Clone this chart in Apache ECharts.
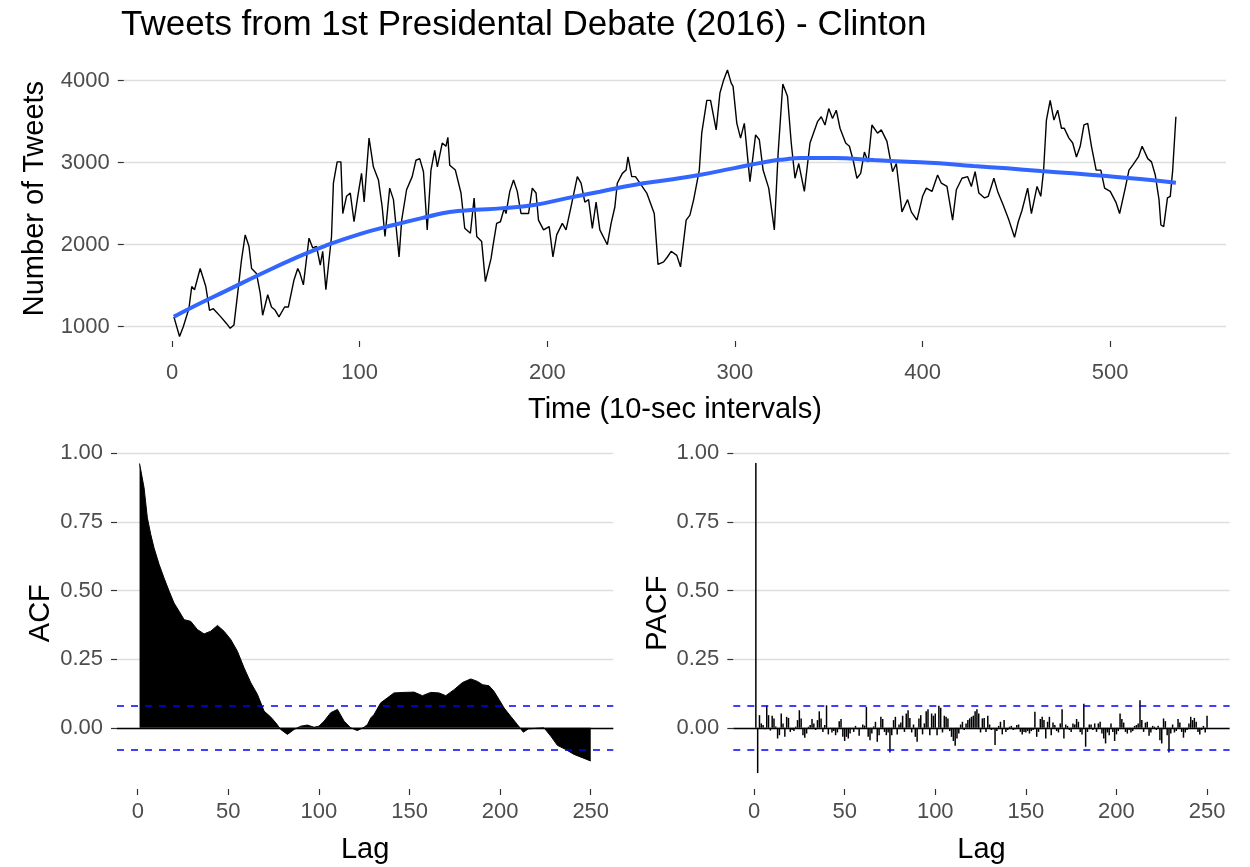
<!DOCTYPE html>
<html>
<head>
<meta charset="utf-8">
<title>Tweets from 1st Presidental Debate (2016) - Clinton</title>
<script src="https://cdn.jsdelivr.net/npm/echarts@6/dist/echarts.min.js"></script>
<style>
  html, body { margin: 0; padding: 0; background: #fff; }
  #chart { width: 1250px; height: 867px; }
</style>
</head>
<body>
<div id="chart"></div>
<script>
// time series (10-sec interval index, tweet count)
const timeX = [1,4,6,9,10.5,12,15,18,20,22,26,29,31,33,35,37,39,41,42.4,45,47,48.3,51,53,55,57,60,62,65,67,68.2,70,73,75,77,79,80.3,82,83,85,86,88,90,91,93,95,97,99,101,102.4,105,106,107.3,110,112,113.5,116,118,121,122.4,125,128,130,132,134,136,138,140,141.4,144,146,147,148,151,154,156,159,161,162.4,165,167,170,171,173,175,
  177,178,180,182,184,186,190,192,194,195.3,198,201,203,205,208,210,213,216,218,220,222,224,226,228,232,234,236,237.3,240,242,243,245,247,250,253,257,259,262,264,266,269,271,274,276,278,281,282.3,285,287,290,292,294,296,298,299,301,303,305,308,311,313,315,318,321,323,325.5,328,330,332,334,337,340,344,346,348,350,352,354,356,
  359,361,363,365,367,369,371,373,376,378,381,384,386,389,392,394,397,400,402,405,408,410,413,416,418,421,424,426,428,430,433,435,438,440,443,446,449,451,453,456,458,461,463,464.5,466,468,470,472,474,475.5,478,480,482,484,486,488,490,492.5,495,497,500,503,505,508,510,512,515,517,520,522,524,526,527,528.5,530.5,532,533.3,535];
const tweets = [1120,880,1000,1220,1490,1450,1710,1490,1200,1220,1120,1040,980,1020,1410,1810,2120,1980,1710,1650,1410,1140,1390,1240,1200,1120,1240,1240,1570,1710,1650,1510,2080,1960,1980,1750,1920,1450,1450,2100,2750,3010,3010,2380,2590,2630,2280,2590,2870,2520,3300,3150,2950,2790,2460,2100,2690,2550,1850,2300,2670,2830,3030,3050,2890,2180,2910,3150,2950,3240,3200,3310,2970,2910,2630,2200,2140,2570,2100,2040,1550,1830,1980,2260,2280,
  2440,2380,2650,2790,2650,2380,2380,2690,2630,2300,2180,2220,1850,2120,2260,2180,2500,2830,2750,2520,2550,2200,2520,2180,2000,2260,2460,2750,2870,2910,3070,2830,2830,2730,2630,2380,1760,1790,1850,1920,1870,1730,2300,2360,2550,2910,3360,3760,3760,3400,3850,4010,4130,3970,3930,3480,3300,3480,2770,3340,3280,2910,2690,2180,3110,3960,3810,3240,2810,2990,2650,3240,3500,3560,3460,3660,3540,3640,3420,
  3240,3200,3030,2810,2870,3130,3010,3460,3360,3400,3260,2890,2990,2400,2550,2400,2300,2590,2690,2650,2850,2750,2710,2300,2670,2810,2830,2710,2890,2630,2570,2590,2810,2650,2480,2300,2090,2280,2420,2690,2380,2710,2590,2910,3520,3760,3520,3640,3420,3420,3300,3240,3070,3200,3460,3480,3200,2910,2910,2690,2650,2520,2380,2690,2910,2970,3070,3200,3050,3010,2850,2550,2240,2220,2570,2590,2910,3560];

// loess smoother
const smoothX = [1,11,29,47,65,82,100,118,136,148,162,175,193,210,228,246,264,281,299,317,326,335,353,374,392,409,427,445,463,480,498,516,535];
const smoothY = [1120,1240,1440,1640,1830,1990,2130,2240,2340,2400,2425,2443,2484,2565,2646,2728,2789,2850,2931,3012,3040,3057,3057,3032,3012,2992,2959,2931,2898,2870,2837,2801,2756];

// ACF outline (lag, acf)
const acfLag = [1,3.5,5.3,7.2,9,11.8,14.5,17.3,20,22.8,25.6,29.2,32.9,36.6,40.3,44,47.6,51.3,55,58.7,62.4,66.1,69.7,73.4,76.2,78.9,82.6,86.3,90,93.6,97.3,100,102.8,106.5,110.2,113.9,117.5,121.2,124.9,126.8,128.6,130.4,134.1,137.8,141.4,147,152.5,157.1,161.7,166.3,170,174.6,179.2,183.8,187.5,190.3,193.9,196.6,199.4,202.2,205.8,209.5,212.8,215.6,224.2,227.9,231.6,236.2,240.8,245.4,250];
const acfValue = [0.963,0.874,0.765,0.704,0.655,0.595,0.546,0.498,0.455,0.425,0.394,0.388,0.358,0.342,0.352,0.373,0.352,0.322,0.279,0.218,0.164,0.121,0.061,0.039,0.018,-0.006,-0.024,-0.006,0.006,0.010,0.002,0.006,0.024,0.055,0.067,0.024,0.000,-0.010,0.002,0.012,0.036,0.048,0.091,0.109,0.127,0.129,0.130,0.117,0.129,0.127,0.117,0.139,0.165,0.178,0.169,0.157,0.153,0.133,0.103,0.072,0.042,0.012,-0.016,-0.004,0.000,-0.030,-0.064,-0.079,-0.097,-0.109,-0.121];

// PACF for lags 1..250
const pacfValue = [0.965,-0.165,0.046,0.016,0.01,-0.005,0.08,0.046,-0.01,0.044,0.034,0.005,-0.039,-0.027,0.052,0.016,-0.033,0.04,0.036,-0.015,
  -0.008,-0.012,0.004,0.028,0.064,0.034,-0.027,-0.036,-0.021,0.004,0.01,0.032,0.016,-0.008,0.028,0.06,0.034,-0.015,0.01,0.082,
  -0.024,-0.002,-0.017,-0.012,-0.027,-0.017,0.024,0.032,-0.033,-0.048,-0.033,-0.039,-0.021,-0.005,-0.015,0.007,-0.005,-0.029,-0.002,0.012,
  0.008,0.076,-0.033,-0.045,-0.021,0.005,0.022,-0.051,-0.027,0.04,0.032,-0.015,-0.027,-0.017,-0.09,-0.027,0.028,0.04,-0.024,0.012,
  0.019,0.044,-0.015,0.052,0.064,0.036,-0.017,0.012,-0.033,-0.051,0.034,0.046,-0.024,0.016,0.06,0.068,-0.027,0.052,0.044,0.052,
  -0.027,0.08,0.073,-0.017,0.044,0.04,0.034,-0.012,-0.033,-0.048,-0.065,-0.039,-0.021,0.012,0.022,-0.008,0.016,0.028,0.034,0.04,
  0.044,0.06,0.068,0.052,-0.017,0.034,0.036,-0.015,0.044,0.012,-0.008,-0.005,-0.063,-0.012,0.007,0.022,-0.024,0.028,-0.015,-0.008,
  0.004,0.007,-0.008,-0.005,0.01,0.012,-0.015,-0.024,-0.015,-0.017,-0.012,-0.021,-0.012,-0.008,0.058,-0.033,-0.015,0.032,0.04,0.028,
  -0.039,0.022,0.04,-0.027,0.019,0.01,-0.012,-0.017,0.016,0.068,-0.039,0.012,0.007,-0.008,-0.015,0.016,0.012,0.032,0.022,-0.015,
  -0.024,0.088,-0.069,-0.015,0.012,0.012,-0.008,0.016,-0.015,0.016,0.022,-0.021,-0.039,-0.057,-0.017,-0.027,0.016,-0.015,-0.048,-0.024,
  -0.012,0.052,0.032,0.019,-0.015,-0.021,-0.008,-0.017,-0.012,0.007,0.01,0.016,0.10,0.028,-0.015,0.019,0.022,-0.029,-0.017,0.007,
  0.004,-0.008,0.007,-0.045,-0.057,0.034,0.024,-0.027,-0.09,-0.021,0.012,-0.017,-0.012,0.032,0.019,-0.015,-0.036,-0.017,-0.008,0.016,
  0.04,0.028,0.036,0.022,-0.015,-0.024,-0.008,0.007,-0.017,0.044];

const confLimit = 0.0847;
const timeTicks = [0, 100, 200, 300, 400, 500];
const countTicks = [1000, 2000, 3000, 4000];
const lagTicks = [0, 50, 100, 150, 200, 250];
const corrTicks = [0, 0.25, 0.5, 0.75, 1];

const FONT = '"Liberation Sans", Arial, sans-serif';
const GRID_COLOR = '#dedede';
const TICK_SIZE = 22;
const NAME_SIZE = 29;

function zip(xs, ys) {
  return xs.map((x, i) => [x, ys[i]]);
}

function tickStyle(values) {
  return { show: true, length: 6, customValues: values, lineStyle: { color: '#333', width: 1.2 } };
}

function bottomX(gridIndex, name) {
  return {
    type: 'value', gridIndex, min: -11.45, max: 262.45,
    name, nameLocation: 'middle', nameGap: 46,
    nameTextStyle: { fontSize: NAME_SIZE, color: '#000', fontFamily: FONT },
    axisLine: { show: false, onZero: false },
    axisTick: tickStyle(lagTicks),
    axisLabel: { customValues: lagTicks, fontSize: TICK_SIZE, color: '#4d4d4d', fontFamily: FONT, margin: 12 },
    splitLine: { show: false }
  };
}

function bottomY(gridIndex, name, gap) {
  return {
    type: 'value', gridIndex, min: -0.223, max: 1.058,
    name, nameLocation: 'middle', nameGap: gap,
    nameTextStyle: { fontSize: NAME_SIZE, color: '#000', fontFamily: FONT },
    axisLine: { show: false, onZero: false },
    axisTick: tickStyle(corrTicks),
    axisLabel: { customValues: corrTicks, fontSize: TICK_SIZE, color: '#4d4d4d', fontFamily: FONT, margin: 14,
      formatter: v => v.toFixed(2) },
    splitLine: { show: true, lineStyle: { color: GRID_COLOR, width: 1.3 } }
  };
}

function refLines() {
  return {
    silent: true, symbol: 'none', label: { show: false },
    data: [
      { yAxis: 0, lineStyle: { color: '#000', type: 'solid', width: 1.3 } },
      { yAxis: confLimit, lineStyle: { color: '#0000ff', type: [7, 7], width: 1.5 } },
      { yAxis: -confLimit, lineStyle: { color: '#0000ff', type: [7, 7], width: 1.5 } }
    ]
  };
}

const chart = echarts.init(document.getElementById('chart'));

const option = {
  backgroundColor: '#fff',
  animation: false,
  title: {
    text: 'Tweets from 1st Presidental Debate (2016) - Clinton',
    left: 116, top: 3,
    textStyle: { fontSize: 35, fontWeight: 'normal', color: '#000', fontFamily: FONT }
  },
  grid: [
    { left: 123.8, top: 56.1, width: 1102.2, height: 284.9 },
    { left: 117, top: 437.4, width: 496.3, height: 351.6 },
    { left: 733.3, top: 437.4, width: 496.3, height: 351.6 }
  ],
  xAxis: [
    {
      type: 'value', gridIndex: 0, min: -25.7, max: 561.7,
      name: 'Time (10-sec intervals)', nameLocation: 'middle', nameGap: 54,
      nameTextStyle: { fontSize: NAME_SIZE, color: '#000', fontFamily: FONT },
      axisLine: { show: false, onZero: false },
      axisTick: tickStyle(timeTicks),
      axisLabel: { customValues: timeTicks, fontSize: TICK_SIZE, color: '#4d4d4d', fontFamily: FONT, margin: 21 },
      splitLine: { show: false }
    },
    bottomX(1, 'Lag'),
    bottomX(2, 'Lag')
  ],
  yAxis: [
    {
      type: 'value', gridIndex: 0, min: 825.6, max: 4300,
      name: 'Number of Tweets', nameLocation: 'middle', nameGap: 68,
      nameTextStyle: { fontSize: NAME_SIZE, color: '#000', fontFamily: FONT },
      axisLine: { show: false, onZero: false },
      axisTick: tickStyle(countTicks),
      axisLabel: { customValues: countTicks, fontSize: TICK_SIZE, color: '#4d4d4d', fontFamily: FONT, margin: 14,
        formatter: v => String(v) },
      splitLine: { show: true, lineStyle: { color: GRID_COLOR, width: 1.3 } }
    },
    bottomY(1, 'ACF', 62),
    bottomY(2, 'PACF', 60)
  ],
  series: [
    {
      name: 'Tweets', type: 'line', xAxisIndex: 0, yAxisIndex: 0,
      data: zip(timeX, tweets), showSymbol: false, clip: false,
      lineStyle: { color: '#000', width: 1.4 }
    },
    {
      name: 'Trend', type: 'line', xAxisIndex: 0, yAxisIndex: 0,
      data: zip(smoothX, smoothY), showSymbol: false, smooth: true,
      lineStyle: { color: '#3366ff', width: 4 }
    },
    {
      name: 'ACF', type: 'line', xAxisIndex: 1, yAxisIndex: 1,
      data: zip(acfLag, acfValue), showSymbol: false,
      lineStyle: { color: '#000', width: 1 },
      areaStyle: { color: '#000', opacity: 1, origin: 0 },
      markLine: refLines()
    },
    {
      name: 'PACF', type: 'bar', xAxisIndex: 2, yAxisIndex: 2,
      data: pacfValue.map((v, i) => [i + 1, v]), barWidth: 1.5,
      itemStyle: { color: '#000' },
      markLine: refLines()
    }
  ]
};

chart.setOption(option);
</script>
</body>
</html>
